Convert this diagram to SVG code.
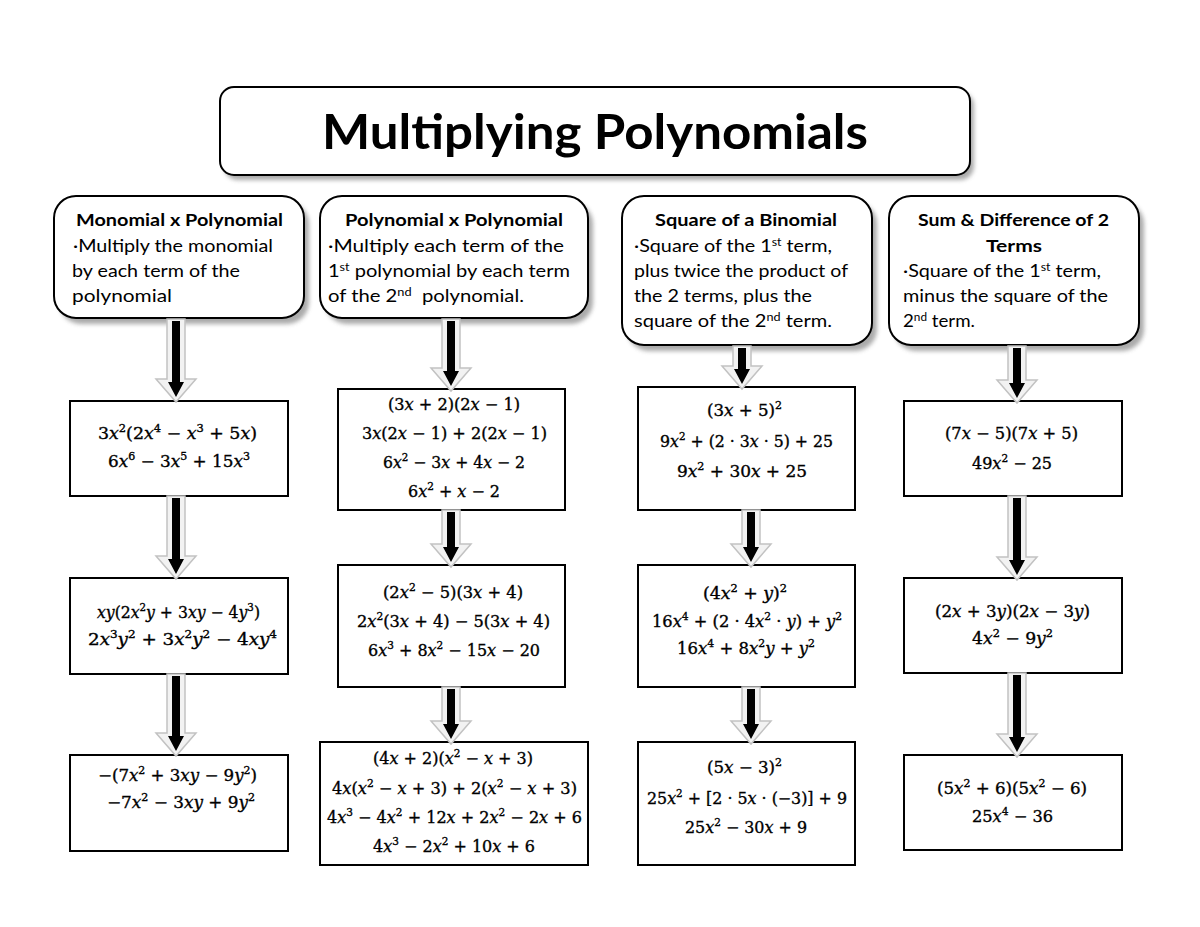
<svg xmlns="http://www.w3.org/2000/svg" width="1200" height="927" viewBox="0 0 1200 927">
<defs>
<filter id="blur" x="-10%" y="-10%" width="120%" height="130%"><feGaussianBlur stdDeviation="2"/></filter>
<style>
.shadow{fill:#8f8f8f;opacity:0.75;filter:url(#blur)}
.rbox{fill:#ffffff;stroke:#000000;stroke-width:2}
.mbox{fill:#ffffff;stroke:#000000;stroke-width:2}
.title{font-family:Lato,"Liberation Sans",sans-serif;font-weight:bold;font-size:47px;fill:#000;text-anchor:middle}
.hh{font-family:Lato,"Liberation Sans",sans-serif;font-weight:bold;font-size:17px;fill:#000;text-anchor:middle}
.hb{font-family:Lato,"Liberation Sans",sans-serif;font-size:17.5px;fill:#000;white-space:pre}
.hs{font-size:11px}
.m{font-family:"DejaVu Serif","Liberation Serif",serif;font-size:16px;fill:#000;text-anchor:middle;stroke:#000;stroke-width:0.35}
.i{font-style:italic}
.s{font-size:10.5px}
.ga{fill:#f2f2f2;stroke:#c2c2c2;stroke-width:1.5}
.ba{fill:#000000}
</style>
</defs>

<g id="title">
<rect class="shadow" x="224" y="92" width="750" height="88" rx="14"/>
<rect class="rbox" x="220" y="87" width="750" height="88" rx="14"/>
<text class="title" x="595" y="149" textLength="546" lengthAdjust="spacingAndGlyphs">Multiplying Polynomials</text>
</g>

<g id="h1">
<rect class="shadow" x="59" y="202" width="250" height="122" rx="22"/>
<rect class="rbox" x="54" y="196" width="250" height="122" rx="22"/>
<text class="hh" x="179.5" y="226" textLength="207" lengthAdjust="spacingAndGlyphs">Monomial x Polynomial</text>
<text class="hb" x="73" y="252" textLength="200" lengthAdjust="spacingAndGlyphs">·Multiply the monomial</text>
<text class="hb" x="72" y="277" textLength="168" lengthAdjust="spacingAndGlyphs">by each term of the</text>
<text class="hb" x="72" y="302" textLength="100" lengthAdjust="spacingAndGlyphs">polynomial</text>
</g>

<g id="h2">
<rect class="shadow" x="325" y="202" width="268" height="122" rx="22"/>
<rect class="rbox" x="320" y="196" width="268" height="122" rx="22"/>
<text class="hh" x="454" y="226" textLength="218" lengthAdjust="spacingAndGlyphs">Polynomial x Polynomial</text>
<text class="hb" x="328" y="252" textLength="236" lengthAdjust="spacingAndGlyphs">·Multiply each term of the</text>
<text class="hb" x="328" y="277" textLength="242" lengthAdjust="spacingAndGlyphs">1<tspan class="hs" dy="-6">st</tspan><tspan dy="6"> polynomial by each term</tspan></text>
<text class="hb" x="328" y="302" textLength="196" lengthAdjust="spacingAndGlyphs">of the 2<tspan class="hs" dy="-6">nd</tspan><tspan dy="6">  polynomial.</tspan></text>
</g>

<g id="h3">
<rect class="shadow" x="627" y="202" width="250" height="149" rx="22"/>
<rect class="rbox" x="622" y="196" width="250" height="149" rx="22"/>
<text class="hh" x="746" y="226" textLength="182" lengthAdjust="spacingAndGlyphs">Square of a Binomial</text>
<text class="hb" x="634" y="252" textLength="198" lengthAdjust="spacingAndGlyphs">·Square of the 1<tspan class="hs" dy="-6">st</tspan><tspan dy="6"> term,</tspan></text>
<text class="hb" x="634" y="277" textLength="214" lengthAdjust="spacingAndGlyphs">plus twice the product of</text>
<text class="hb" x="634" y="302" textLength="178" lengthAdjust="spacingAndGlyphs">the 2 terms, plus the</text>
<text class="hb" x="634" y="327" textLength="198" lengthAdjust="spacingAndGlyphs">square of the 2<tspan class="hs" dy="-6">nd</tspan><tspan dy="6"> term.</tspan></text>
</g>

<g id="h4">
<rect class="shadow" x="894" y="202" width="250" height="149" rx="22"/>
<rect class="rbox" x="889" y="196" width="250" height="149" rx="22"/>
<text class="hh" x="1013.5" y="226" textLength="191" lengthAdjust="spacingAndGlyphs">Sum &amp; Difference of 2</text>
<text class="hh" x="1014" y="252" textLength="56" lengthAdjust="spacingAndGlyphs">Terms</text>
<text class="hb" x="903" y="277" textLength="198" lengthAdjust="spacingAndGlyphs">·Square of the 1<tspan class="hs" dy="-6">st</tspan><tspan dy="6"> term,</tspan></text>
<text class="hb" x="903" y="302" textLength="205" lengthAdjust="spacingAndGlyphs">minus the square of the</text>
<text class="hb" x="903" y="327" textLength="72" lengthAdjust="spacingAndGlyphs">2<tspan class="hs" dy="-6">nd</tspan><tspan dy="6"> term.</tspan></text>
</g>

<g id="a1">
<rect class="mbox" x="70" y="401" width="218" height="95"/>
<text class="m" x="177.5" y="439" textLength="159" lengthAdjust="spacingAndGlyphs">3<tspan class="i">x</tspan><tspan class="s" dy="-7">2</tspan><tspan dy="7">(2</tspan><tspan class="i">x</tspan><tspan class="s" dy="-7">4</tspan><tspan dy="7"> − </tspan><tspan class="i">x</tspan><tspan class="s" dy="-7">3</tspan><tspan dy="7"> + 5</tspan><tspan class="i">x</tspan>)</text>
<text class="m" x="179" y="467" textLength="142" lengthAdjust="spacingAndGlyphs">6<tspan class="i">x</tspan><tspan class="s" dy="-7">6</tspan><tspan dy="7"> − 3</tspan><tspan class="i">x</tspan><tspan class="s" dy="-7">5</tspan><tspan dy="7"> + 15</tspan><tspan class="i">x</tspan><tspan class="s" dy="-7">3</tspan></text>
</g>
<g id="a2">
<rect class="mbox" x="70" y="578" width="218" height="96"/>
<text class="m" x="178.5" y="618" textLength="163" lengthAdjust="spacingAndGlyphs"><tspan class="i">xy</tspan>(2<tspan class="i">x</tspan><tspan class="s" dy="-7">2</tspan><tspan class="i" dy="7">y</tspan> + 3<tspan class="i">xy</tspan> − 4<tspan class="i">y</tspan><tspan class="s" dy="-7">3</tspan><tspan dy="7">)</tspan></text>
<text class="m" x="182.5" y="645" textLength="189" lengthAdjust="spacingAndGlyphs">2<tspan class="i">x</tspan><tspan class="s" dy="-7">3</tspan><tspan class="i" dy="7">y</tspan><tspan class="s" dy="-7">2</tspan><tspan dy="7"> + 3</tspan><tspan class="i">x</tspan><tspan class="s" dy="-7">2</tspan><tspan class="i" dy="7">y</tspan><tspan class="s" dy="-7">2</tspan><tspan dy="7"> − 4</tspan><tspan class="i">xy</tspan><tspan class="s" dy="-7">4</tspan></text>
</g>
<g id="a3">
<rect class="mbox" x="70" y="755" width="218" height="96"/>
<text class="m" x="177.5" y="781" textLength="159" lengthAdjust="spacingAndGlyphs">−(7<tspan class="i">x</tspan><tspan class="s" dy="-7">2</tspan><tspan dy="7"> + 3</tspan><tspan class="i">xy</tspan> − 9<tspan class="i">y</tspan><tspan class="s" dy="-7">2</tspan><tspan dy="7">)</tspan></text>
<text class="m" x="181" y="808" textLength="148" lengthAdjust="spacingAndGlyphs">−7<tspan class="i">x</tspan><tspan class="s" dy="-7">2</tspan><tspan dy="7"> − 3</tspan><tspan class="i">xy</tspan> + 9<tspan class="i">y</tspan><tspan class="s" dy="-7">2</tspan></text>
</g>

<g id="b1">
<rect class="mbox" x="338" y="389" width="227" height="121"/>
<text class="m" x="454" y="410" textLength="132" lengthAdjust="spacingAndGlyphs">(3<tspan class="i">x</tspan> + 2)(2<tspan class="i">x</tspan> − 1)</text>
<text class="m" x="454.5" y="439" textLength="185" lengthAdjust="spacingAndGlyphs">3<tspan class="i">x</tspan>(2<tspan class="i">x</tspan> − 1) + 2(2<tspan class="i">x</tspan> − 1)</text>
<text class="m" x="454" y="468" textLength="142" lengthAdjust="spacingAndGlyphs">6<tspan class="i">x</tspan><tspan class="s" dy="-7">2</tspan><tspan dy="7"> − 3</tspan><tspan class="i">x</tspan> + 4<tspan class="i">x</tspan> − 2</text>
<text class="m" x="454" y="497" textLength="92" lengthAdjust="spacingAndGlyphs">6<tspan class="i">x</tspan><tspan class="s" dy="-7">2</tspan><tspan dy="7"> + </tspan><tspan class="i">x</tspan> − 2</text>
</g>
<g id="b2">
<rect class="mbox" x="338" y="565" width="227" height="122"/>
<text class="m" x="453" y="598" textLength="140" lengthAdjust="spacingAndGlyphs">(2<tspan class="i">x</tspan><tspan class="s" dy="-7">2</tspan><tspan dy="7"> − 5)(3</tspan><tspan class="i">x</tspan> + 4)</text>
<text class="m" x="453.5" y="627" textLength="193" lengthAdjust="spacingAndGlyphs">2<tspan class="i">x</tspan><tspan class="s" dy="-7">2</tspan><tspan dy="7">(3</tspan><tspan class="i">x</tspan> + 4) − 5(3<tspan class="i">x</tspan> + 4)</text>
<text class="m" x="454" y="656" textLength="172" lengthAdjust="spacingAndGlyphs">6<tspan class="i">x</tspan><tspan class="s" dy="-7">3</tspan><tspan dy="7"> + 8</tspan><tspan class="i">x</tspan><tspan class="s" dy="-7">2</tspan><tspan dy="7"> − 15</tspan><tspan class="i">x</tspan> − 20</text>
</g>
<g id="b3">
<rect class="mbox" x="320" y="742" width="268" height="123"/>
<text class="m" x="453" y="764" textLength="160" lengthAdjust="spacingAndGlyphs">(4<tspan class="i">x</tspan> + 2)(<tspan class="i">x</tspan><tspan class="s" dy="-7">2</tspan><tspan dy="7"> − </tspan><tspan class="i">x</tspan> + 3)</text>
<text class="m" x="454.5" y="794" textLength="245" lengthAdjust="spacingAndGlyphs">4<tspan class="i">x</tspan>(<tspan class="i">x</tspan><tspan class="s" dy="-7">2</tspan><tspan dy="7"> − </tspan><tspan class="i">x</tspan> + 3) + 2(<tspan class="i">x</tspan><tspan class="s" dy="-7">2</tspan><tspan dy="7"> − </tspan><tspan class="i">x</tspan> + 3)</text>
<text class="m" x="454.5" y="823" textLength="255" lengthAdjust="spacingAndGlyphs">4<tspan class="i">x</tspan><tspan class="s" dy="-7">3</tspan><tspan dy="7"> − 4</tspan><tspan class="i">x</tspan><tspan class="s" dy="-7">2</tspan><tspan dy="7"> + 12</tspan><tspan class="i">x</tspan> + 2<tspan class="i">x</tspan><tspan class="s" dy="-7">2</tspan><tspan dy="7"> − 2</tspan><tspan class="i">x</tspan> + 6</text>
<text class="m" x="454" y="852" textLength="162" lengthAdjust="spacingAndGlyphs">4<tspan class="i">x</tspan><tspan class="s" dy="-7">3</tspan><tspan dy="7"> − 2</tspan><tspan class="i">x</tspan><tspan class="s" dy="-7">2</tspan><tspan dy="7"> + 10</tspan><tspan class="i">x</tspan> + 6</text>
</g>

<g id="c1">
<rect class="mbox" x="638" y="387" width="217" height="123"/>
<text class="m" x="744.5" y="416" textLength="75" lengthAdjust="spacingAndGlyphs">(3<tspan class="i">x</tspan> + 5)<tspan class="s" dy="-7">2</tspan></text>
<text class="m" x="746.5" y="447" textLength="173" lengthAdjust="spacingAndGlyphs">9<tspan class="i">x</tspan><tspan class="s" dy="-7">2</tspan><tspan dy="7"> + (2 · 3</tspan><tspan class="i">x</tspan> · 5) + 25</text>
<text class="m" x="742" y="477" textLength="130" lengthAdjust="spacingAndGlyphs">9<tspan class="i">x</tspan><tspan class="s" dy="-7">2</tspan><tspan dy="7"> + 30</tspan><tspan class="i">x</tspan> + 25</text>
</g>
<g id="c2">
<rect class="mbox" x="638" y="565" width="217" height="122"/>
<text class="m" x="745" y="599" textLength="84" lengthAdjust="spacingAndGlyphs">(4<tspan class="i">x</tspan><tspan class="s" dy="-7">2</tspan><tspan dy="7"> + </tspan><tspan class="i">y</tspan>)<tspan class="s" dy="-7">2</tspan></text>
<text class="m" x="747" y="627" textLength="190" lengthAdjust="spacingAndGlyphs">16<tspan class="i">x</tspan><tspan class="s" dy="-7">4</tspan><tspan dy="7"> + (2 · 4</tspan><tspan class="i">x</tspan><tspan class="s" dy="-7">2</tspan><tspan dy="7"> · </tspan><tspan class="i">y</tspan>) + <tspan class="i">y</tspan><tspan class="s" dy="-7">2</tspan></text>
<text class="m" x="746" y="654" textLength="138" lengthAdjust="spacingAndGlyphs">16<tspan class="i">x</tspan><tspan class="s" dy="-7">4</tspan><tspan dy="7"> + 8</tspan><tspan class="i">x</tspan><tspan class="s" dy="-7">2</tspan><tspan class="i" dy="7">y</tspan> + <tspan class="i">y</tspan><tspan class="s" dy="-7">2</tspan></text>
</g>
<g id="c3">
<rect class="mbox" x="638" y="742" width="217" height="123"/>
<text class="m" x="744.5" y="773" textLength="75" lengthAdjust="spacingAndGlyphs">(5<tspan class="i">x</tspan> − 3)<tspan class="s" dy="-7">2</tspan></text>
<text class="m" x="747" y="804" textLength="200" lengthAdjust="spacingAndGlyphs">25<tspan class="i">x</tspan><tspan class="s" dy="-7">2</tspan><tspan dy="7"> + [2 · 5</tspan><tspan class="i">x</tspan> · (−3)] + 9</text>
<text class="m" x="746" y="833" textLength="122" lengthAdjust="spacingAndGlyphs">25<tspan class="i">x</tspan><tspan class="s" dy="-7">2</tspan><tspan dy="7"> − 30</tspan><tspan class="i">x</tspan> + 9</text>
</g>

<g id="d1">
<rect class="mbox" x="904" y="401" width="218" height="95"/>
<text class="m" x="1011.5" y="439" textLength="133" lengthAdjust="spacingAndGlyphs">(7<tspan class="i">x</tspan> − 5)(7<tspan class="i">x</tspan> + 5)</text>
<text class="m" x="1012" y="469" textLength="80" lengthAdjust="spacingAndGlyphs">49<tspan class="i">x</tspan><tspan class="s" dy="-7">2</tspan><tspan dy="7"> − 25</tspan></text>
</g>
<g id="d2">
<rect class="mbox" x="904" y="578" width="218" height="95"/>
<text class="m" x="1012.5" y="617" textLength="155" lengthAdjust="spacingAndGlyphs">(2<tspan class="i">x</tspan> + 3<tspan class="i">y</tspan>)(2<tspan class="i">x</tspan> − 3<tspan class="i">y</tspan>)</text>
<text class="m" x="1012.5" y="644" textLength="81" lengthAdjust="spacingAndGlyphs">4<tspan class="i">x</tspan><tspan class="s" dy="-7">2</tspan><tspan dy="7"> − 9</tspan><tspan class="i">y</tspan><tspan class="s" dy="-7">2</tspan></text>
</g>
<g id="d3">
<rect class="mbox" x="904" y="755" width="218" height="95"/>
<text class="m" x="1012" y="794" textLength="150" lengthAdjust="spacingAndGlyphs">(5<tspan class="i">x</tspan><tspan class="s" dy="-7">2</tspan><tspan dy="7"> + 6)(5</tspan><tspan class="i">x</tspan><tspan class="s" dy="-7">2</tspan><tspan dy="7"> − 6)</tspan></text>
<text class="m" x="1012.5" y="822" textLength="81" lengthAdjust="spacingAndGlyphs">25<tspan class="i">x</tspan><tspan class="s" dy="-7">4</tspan><tspan dy="7"> − 36</tspan></text>
</g>

<g id="connectors">
<path class="ga" d="M167,319 H185 V379 H196 L176,402 L156,379 H167 Z"/>
<path class="ba" d="M172,321 H180 V382 H184 L176,397 L168,382 H172 Z"/>
<path class="ga" d="M167,496 H185 V556 H196 L176,579 L156,556 H167 Z"/>
<path class="ba" d="M172,498 H180 V559 H184 L176,574 L168,559 H172 Z"/>
<path class="ga" d="M167,674 H185 V733 H196 L176,756 L156,733 H167 Z"/>
<path class="ba" d="M172,676 H180 V736 H184 L176,751 L168,736 H172 Z"/>

<path class="ga" d="M442,319 H460 V368 H471 L451,391 L431,368 H442 Z"/>
<path class="ba" d="M447,321 H455 V371 H459 L451,386 L443,371 H447 Z"/>
<path class="ga" d="M442,510 H460 V544 H471 L451,567 L431,544 H442 Z"/>
<path class="ba" d="M447,512 H455 V547 H459 L451,562 L443,547 H447 Z"/>
<path class="ga" d="M442,687 H460 V721 H471 L451,744 L431,721 H442 Z"/>
<path class="ba" d="M447,689 H455 V724 H459 L451,739 L443,724 H447 Z"/>

<path class="ga" d="M733,346 H751 V366 H762 L742,389 L722,366 H733 Z"/>
<path class="ba" d="M738,348 H746 V369 H750 L742,384 L734,369 H738 Z"/>
<path class="ga" d="M742,510 H760 V544 H771 L751,567 L731,544 H742 Z"/>
<path class="ba" d="M747,512 H755 V547 H759 L751,562 L743,547 H747 Z"/>
<path class="ga" d="M742,687 H760 V721 H771 L751,744 L731,721 H742 Z"/>
<path class="ba" d="M747,689 H755 V724 H759 L751,739 L743,724 H747 Z"/>

<path class="ga" d="M1008,346 H1026 V380 H1037 L1017,403 L997,380 H1008 Z"/>
<path class="ba" d="M1013,348 H1021 V383 H1025 L1017,398 L1009,383 H1013 Z"/>
<path class="ga" d="M1008,496 H1026 V557 H1037 L1017,580 L997,557 H1008 Z"/>
<path class="ba" d="M1013,498 H1021 V560 H1025 L1017,575 L1009,560 H1013 Z"/>
<path class="ga" d="M1008,673 H1026 V734 H1037 L1017,757 L997,734 H1008 Z"/>
<path class="ba" d="M1013,675 H1021 V737 H1025 L1017,752 L1009,737 H1013 Z"/>
</g>
</svg>
